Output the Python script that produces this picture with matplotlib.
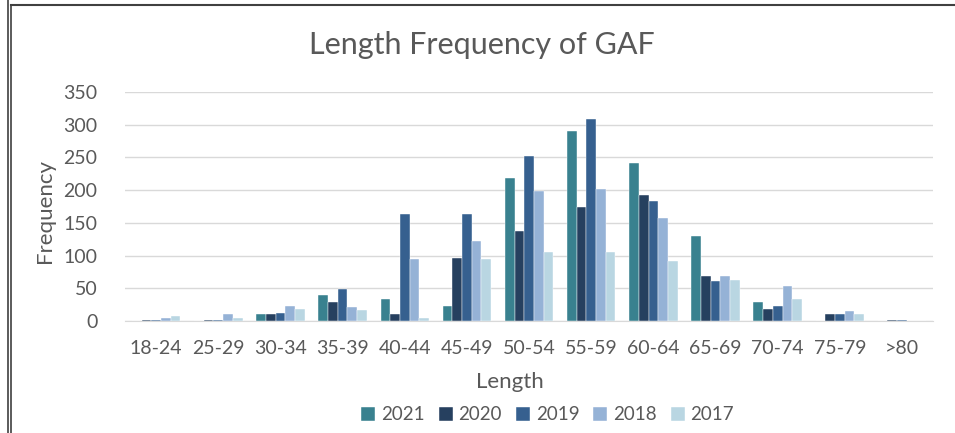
import numpy as np
import matplotlib.pyplot as plt
from matplotlib.lines import Line2D

plt.rcParams['font.family'] = ['Lato', 'DejaVu Sans']

lengths = ['18-24', '25-29', '30-34', '35-39', '40-44', '45-49', '50-54',
           '55-59', '60-64', '65-69', '70-74', '75-79', '>80']
years = ['2021', '2020', '2019', '2018', '2017']
f2021 = [0, 0, 10, 40, 34, 23, 218, 290, 241, 130, 29, 0, 0]
f2020 = [2, 2, 10, 29, 11, 97, 138, 174, 193, 68, 19, 11, 2]
f2019 = [2, 2, 12, 49, 163, 163, 252, 309, 184, 61, 23, 11, 2]
f2018 = [4, 10, 23, 21, 95, 122, 199, 201, 157, 68, 53, 15, 0]
f2017 = [8, 4, 19, 17, 4, 95, 106, 106, 91, 62, 34, 11, 0]
colors = ['#39818F', '#26405F', '#36608F', '#95B2D6', '#B9D6E2']

grey = '#595959'
fig = plt.figure(figsize=(9.55, 4.33), dpi=100)
ax = fig.add_axes([0.131, 0.2587, 0.846, 0.5289])

x = np.arange(len(lengths))
w = 0.156
for i, (yr, vals) in enumerate(zip(years, [f2021, f2020, f2019, f2018, f2017])):
    ax.bar(x + (i - 2) * w, vals, w, color=colors[i], label=yr, zorder=3,
           edgecolor='white', linewidth=0.3)

ax.set_xlim(-0.5, len(lengths) - 0.5)
ax.set_ylim(0, 350)
ax.set_yticks(range(0, 351, 50))
ax.set_xticks(x)
ax.set_xticklabels(lengths)
ax.yaxis.grid(True, color='#D9D9D9', linewidth=1, zorder=0)
for s in ['top', 'right', 'left']:
    ax.spines[s].set_visible(False)
ax.spines['bottom'].set_color('#D9D9D9')
ax.tick_params(length=0, labelsize=14, colors=grey, pad=14)
ax.tick_params(axis='y', pad=20)

fig.text(0.505, 0.895, 'Length Frequency of GAF', ha='center', va='center',
         fontsize=22, color=grey)
fig.text(0.047, 0.513, 'Frequency', rotation=90, ha='center', va='center',
         fontsize=16, color=grey)
fig.text(0.534, 0.118, 'Length', ha='center', va='center', fontsize=16, color=grey)

ax.legend(loc='center', bbox_to_anchor=(0.523, -0.41), ncol=5, frameon=False,
          fontsize=13.5, handlelength=0.75, handleheight=0.75, handletextpad=0.3,
          columnspacing=0.75, labelcolor=grey)

# frame around the chart
fig.add_artist(Line2D([0.0084, 0.0084], [0, 1], color='#404040', lw=1.2))
fig.add_artist(Line2D([0.0115, 0.0115], [0, 0.988], color='#404040', lw=1.2))
fig.add_artist(Line2D([0.0115, 1], [0.988, 0.988], color='#404040', lw=1.5))

fig.savefig('out.png', dpi=100)
